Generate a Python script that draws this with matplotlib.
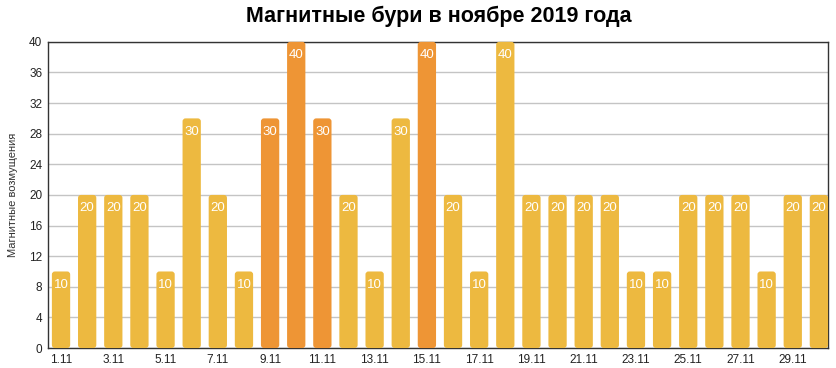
import matplotlib
matplotlib.use("Agg")
import matplotlib.pyplot as plt
from matplotlib.patches import FancyBboxPatch

plt.rcParams['font.family'] = ['Liberation Sans', 'DejaVu Sans']

# DATA
days = list(range(1, 31))
values = [10, 20, 20, 20, 10, 30, 20, 10, 30, 40,
          30, 20, 10, 30, 40, 20, 10, 40, 20, 20,
          20, 20, 10, 10, 20, 20, 20, 10, 20, 20]
orange_days = [9, 10, 11, 15]
tick_days = [1, 3, 5, 7, 9, 11, 13, 15, 17, 19, 21, 23, 25, 27, 29]
tick_labels = ["%d.11" % d for d in tick_days]
y_ticks = list(range(0, 41, 4))

COLOR_YELLOW = '#EDB940'
COLOR_ORANGE = '#EE9535'

fig = plt.figure(figsize=(8.37, 3.68), dpi=100)
ax = fig.add_axes([0.0573, 0.0543, 0.932, 0.832])

colors = [COLOR_ORANGE if d in orange_days else COLOR_YELLOW for d in days]
bars = ax.bar(days, values, width=0.7, color=colors)

ax.set_xlim(0.5, 30.35)
ax.set_ylim(0, 40)

# swap plain bars for rounded ones (aspect fixes the rounding in data units)
fig.canvas.draw()
bbox = ax.get_window_extent()
px_x = (30.35 - 0.5) / bbox.width
px_y = 40 / bbox.height
aspect = px_y / px_x
for b, c in zip(bars, colors):
    x, y = b.get_x(), b.get_y()
    w, h = b.get_width(), b.get_height()
    b.set_visible(False)
    rb = FancyBboxPatch((x, y), w, h,
                        boxstyle="round,pad=0,rounding_size=%f" % (3 * px_x),
                        mutation_aspect=aspect, facecolor=c, edgecolor='none',
                        zorder=3, clip_on=False)
    ax.add_patch(rb)

for d, v in zip(days, values):
    ax.annotate(str(v), (d, v), xytext=(0, -9.5), textcoords='offset points',
                ha='center', va='center', color='white', fontsize=9.5, zorder=4)

ax.set_yticks(y_ticks)
ax.set_xticks(tick_days)
ax.set_xticklabels(tick_labels)
ax.tick_params(length=0, labelsize=8.5, colors='#222222', pad=4)
ax.yaxis.grid(True, color='#c4c4c4', linewidth=1)
ax.set_axisbelow(True)
for s in ax.spines.values():
    s.set_color('#333333')
    s.set_linewidth(1)

ax.set_ylabel("Магнитные возмущения", fontsize=8, color='#333333', labelpad=8)
fig.suptitle("Магнитные бури в ноябре 2019 года", fontsize=15.5,
             fontweight='bold', x=0.524, y=0.985)

fig.savefig("out.png", dpi=100)
